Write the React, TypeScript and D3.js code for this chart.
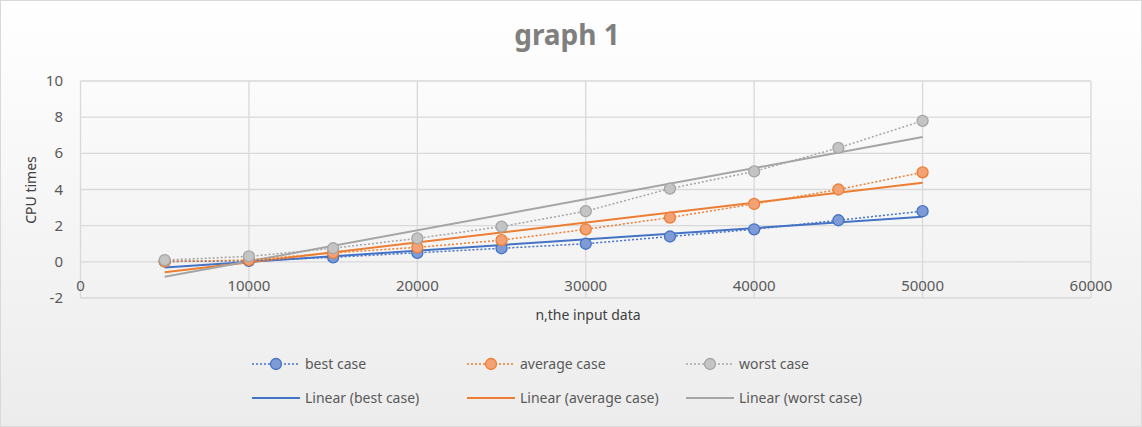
import { useEffect, useRef } from "react";
import * as d3 from "d3";

const xs = [5000, 10000, 15000, 20000, 25000, 30000, 35000, 40000, 45000, 50000];
const best = [0.02, 0.05, 0.25, 0.5, 0.75, 1.0, 1.4, 1.8, 2.3, 2.8];
const average = [0.02, 0.1, 0.5, 0.8, 1.2, 1.8, 2.45, 3.2, 4.0, 4.95];
const worst = [0.1, 0.3, 0.75, 1.3, 1.95, 2.8, 4.05, 5.0, 6.3, 7.8];
const names = ["best case", "average case", "worst case"];
const colors = ["#4472C4", "#ED7D31", "#A5A5A5"];
const fills = ["#7E9BD6", "#F2A275", "#C4C4C4"];
const xTicks = [0, 10000, 20000, 30000, 40000, 50000, 60000];
const yTicks = [-2, 0, 2, 4, 6, 8, 10];

export default function App() {
  const ref = useRef<SVGSVGElement | null>(null);

  useEffect(() => {
    const W = 1142, H = 427;
    const svg = d3.select(ref.current!);
    svg.selectAll("*").remove();
    svg.attr("width", W).attr("height", H);
    const font = "'Noto Sans', 'Open Sans', sans-serif";

    const defs = svg.append("defs");
    const grad = defs.append("linearGradient").attr("id", "bg").attr("x1", 0).attr("y1", 0).attr("x2", 0).attr("y2", 1);
    grad.append("stop").attr("offset", "0%").attr("stop-color", "#ffffff");
    grad.append("stop").attr("offset", "100%").attr("stop-color", "#ececec");
    svg.append("rect").attr("x", 0.5).attr("y", 0.5).attr("width", W - 1).attr("height", H - 1)
      .attr("fill", "url(#bg)").attr("stroke", "#d9d9d9");

    const x = d3.scaleLinear().domain([0, 60000]).range([80.5, 1091]);
    const y = d3.scaleLinear().domain([-2, 10]).range([298, 81]);

    const grid = svg.append("g");
    yTicks.forEach((t) => {
      grid.append("line").attr("x1", x(0)).attr("x2", x(60000)).attr("y1", y(t)).attr("y2", y(t))
        .attr("stroke", "#d9d9d9").attr("stroke-width", 1.3);
      svg.append("text").attr("x", 63).attr("y", y(t) + 5).attr("text-anchor", "end")
        .attr("font-family", font).attr("font-size", 15).attr("fill", "#595959").text(t);
    });
    xTicks.forEach((t) => {
      grid.append("line").attr("x1", x(t)).attr("x2", x(t)).attr("y1", y(10)).attr("y2", y(-2))
        .attr("stroke", "#d9d9d9").attr("stroke-width", 1.3);
      svg.append("text").attr("x", x(t)).attr("y", 291).attr("text-anchor", "middle")
        .attr("font-family", font).attr("font-size", 15).attr("fill", "#595959").text(t);
    });

    svg.append("text").attr("x", 567).attr("y", 45).attr("text-anchor", "middle")
      .attr("font-family", font).attr("font-size", 28).attr("font-weight", "bold").attr("fill", "#7f7f7f").text("graph 1");
    svg.append("text").attr("transform", "translate(36,190) rotate(-90)").attr("text-anchor", "middle")
      .attr("font-family", font).attr("font-size", 14).attr("fill", "#404040").text("CPU times");
    svg.append("text").attr("x", 588).attr("y", 320).attr("text-anchor", "middle")
      .attr("font-family", font).attr("font-size", 14).attr("fill", "#404040").text("n,the input data");

    const series = [best, average, worst];
    const line = d3.line<number>().x((_, i) => x(xs[i])).y((v) => y(v));

    series.forEach((s, k) => {
      const mx = d3.mean(xs)!, my = d3.mean(s)!;
      const slope = d3.sum(xs, (v, i) => (v - mx) * (s[i] - my)) / d3.sum(xs, (v) => (v - mx) ** 2);
      const b = my - slope * mx;
      svg.append("line").attr("x1", x(xs[0])).attr("y1", y(slope * xs[0] + b))
        .attr("x2", x(xs[xs.length - 1])).attr("y2", y(slope * xs[xs.length - 1] + b))
        .attr("stroke", colors[k]).attr("stroke-width", 2);
    });
    series.forEach((s, k) => {
      svg.append("path").datum(s).attr("d", line).attr("fill", "none")
        .attr("stroke", colors[k]).attr("stroke-width", 1.5).attr("stroke-dasharray", "2,2");
      svg.selectAll(null).data(s).enter().append("circle")
        .attr("cx", (_, i) => x(xs[i])).attr("cy", (v) => y(v)).attr("r", 5.5)
        .attr("fill", fills[k]).attr("stroke", colors[k]).attr("stroke-width", 1.3);
    });

    const lx = [252, 467, 686];
    names.forEach((n, k) => {
      const g = svg.append("g");
      g.append("line").attr("x1", lx[k]).attr("x2", lx[k] + 48).attr("y1", 364).attr("y2", 364)
        .attr("stroke", colors[k]).attr("stroke-width", 1.5).attr("stroke-dasharray", "2,2");
      g.append("circle").attr("cx", lx[k] + 24).attr("cy", 364).attr("r", 5.5)
        .attr("fill", fills[k]).attr("stroke", colors[k]).attr("stroke-width", 1.3);
      g.append("text").attr("x", lx[k] + 53).attr("y", 369).attr("font-family", font).attr("font-size", 14)
        .attr("fill", "#595959").text(n);
      g.append("line").attr("x1", lx[k]).attr("x2", lx[k] + 48).attr("y1", 398).attr("y2", 398)
        .attr("stroke", colors[k]).attr("stroke-width", 2);
      g.append("text").attr("x", lx[k] + 53).attr("y", 403).attr("font-family", font).attr("font-size", 14)
        .attr("fill", "#595959").text(`Linear (${n})`);
    });
  }, []);

  return <svg ref={ref} style={{ position: "absolute", left: 0, top: 0 }} />;
}
